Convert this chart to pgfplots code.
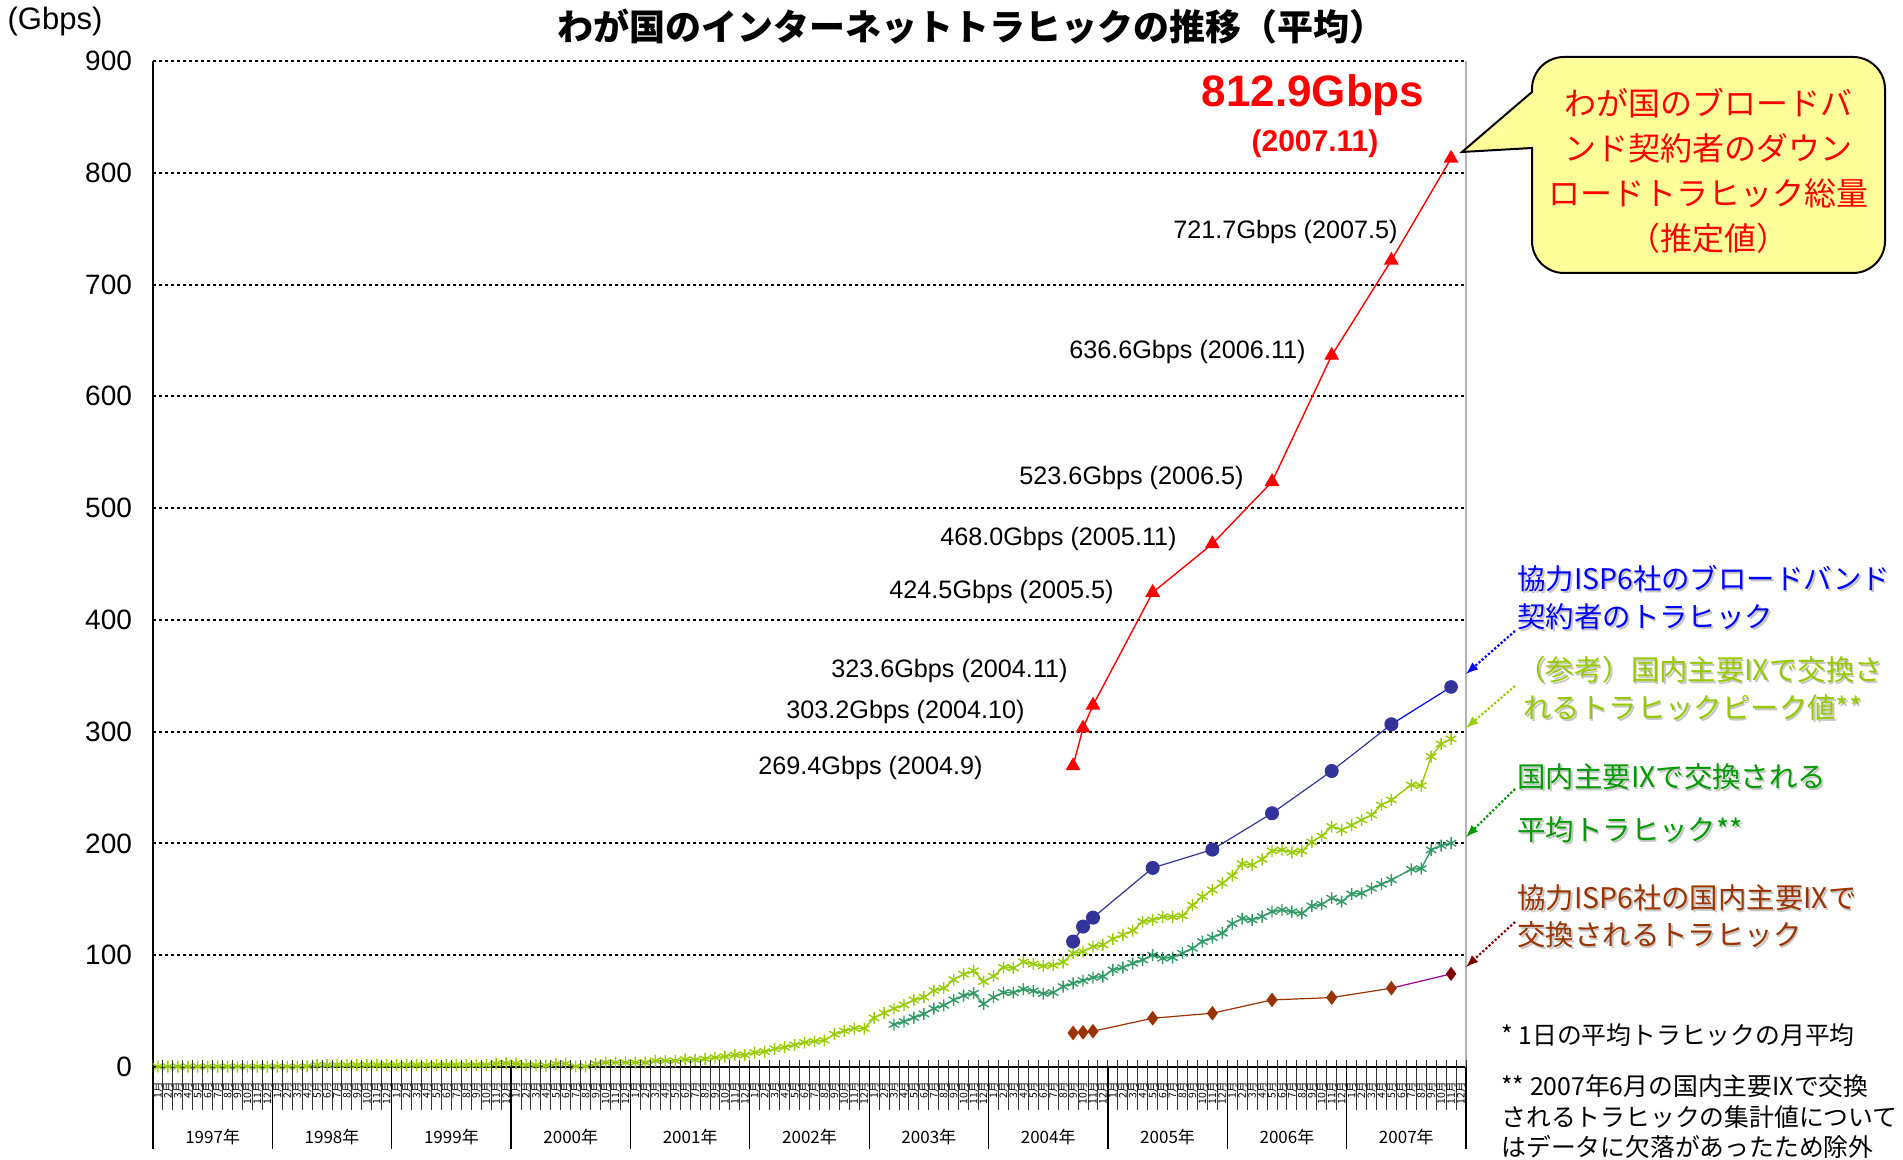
\documentclass[border=0pt]{standalone}
\usepackage{pgfplots}
\pgfplotsset{compat=1.18}
\usepackage{fontspec}
\setmainfont{Liberation Sans}
\newfontfamily\jp{Noto Sans CJK JP}
\definecolor{lgreen}{RGB}{153,204,0}
\definecolor{tealg}{RGB}{51,153,102}
\definecolor{navyb}{RGB}{51,51,153}
\definecolor{brownd}{RGB}{153,51,0}
\definecolor{gtext}{RGB}{0,153,0}
\definecolor{lgtext}{RGB}{150,200,0}
\definecolor{callout}{RGB}{255,255,153}
\definecolor{purp}{RGB}{153,0,153}
\definecolor{darkr}{RGB}{128,0,0}

\pgfplotstableread{
x y
0.5 0.3
1.5 0.3
2.5 0.3
3.5 0.3
4.5 0.3
5.5 0.3
6.5 0.3
7.5 0.3
8.5 0.3
9.5 0.3
10.5 0.3
11.5 0.3
12.5 0.3
13.5 0.3
14.5 0.3
15.5 0.6
16.5 1.8
17.5 1.7
18.5 1.8
19.5 1.8
20.5 1.7
21.5 1.8
22.5 1.8
23.5 1.9
24.5 1.8
25.5 1.8
26.5 1.7
27.5 1.8
28.5 1.8
29.5 1.9
30.5 1.8
31.5 1.8
32.5 1.9
33.5 1.9
34.5 3.0
35.5 3.4
36.5 3.2
37.5 1.8
38.5 1.6
39.5 1.2
40.5 2.8
41.5 3.0
42.5 0.5
43.5 0.5
44.5 2.8
45.5 4.0
46.5 4.0
47.5 4.0
48.5 4.0
49.5 4.0
50.5 5.5
51.5 5.5
52.5 5.5
53.5 6.6
54.5 6.4
55.5 7.2
56.5 8.4
57.5 9.3
58.5 10.8
59.5 10.8
60.5 12.9
61.5 13.8
62.5 16.2
63.5 17.7
64.5 19.8
65.5 21.9
66.5 23.0
67.5 23.9
68.5 29.3
69.5 32.3
70.5 34.4
71.5 34.4
72.5 43.9
73.5 48.4
74.5 52.3
75.5 55.5
76.5 60.0
77.5 62.4
78.5 68.4
79.5 70.5
80.5 78.2
81.5 83.0
82.5 86.0
83.5 76.4
84.5 81.2
85.5 89.2
86.5 88.6
87.5 94.0
88.5 92.2
89.5 90.4
90.5 91.0
91.5 93.7
92.5 101.8
93.5 103.2
94.5 107.7
95.5 109.2
96.5 114.6
97.5 118.2
98.5 122.0
99.5 130.1
100.5 131.6
101.5 134.3
102.5 134.3
103.5 135.2
104.5 144.7
105.5 152.4
106.5 158.4
107.5 164.4
108.5 171.2
109.5 181.7
110.5 180.8
111.5 185.8
112.5 193.3
113.5 194.2
114.5 192.1
115.5 193.3
116.5 201.3
117.5 206.7
118.5 215.1
119.5 212.1
120.5 216.3
121.5 221.0
122.5 225.5
123.5 234.4
124.5 238.9
126.5 252.3
127.5 251.7
128.5 277.7
129.5 289.0
130.5 293.5
}\peak

\pgfplotstableread{
x y
74.5 38.0
75.5 40.6
76.5 44.2
77.5 47.5
78.5 52.3
79.5 55.2
80.5 60.0
81.5 63.9
82.5 66.0
83.5 56.4
84.5 62.4
85.5 66.6
86.5 66.6
87.5 69.6
88.5 68.1
89.5 65.7
90.5 66.6
91.5 71.9
92.5 74.9
93.5 77.3
94.5 80.0
95.5 80.9
96.5 86.9
97.5 88.9
98.5 92.8
99.5 95.8
100.5 100.0
101.5 97.3
102.5 97.9
103.5 101.8
104.5 106.2
105.5 112.2
106.5 115.8
107.5 119.7
108.5 128.3
109.5 132.8
110.5 131.6
111.5 134.6
112.5 139.0
113.5 140.5
114.5 139.0
115.5 137.5
116.5 144.1
117.5 145.6
118.5 151.0
119.5 148.0
120.5 154.8
121.5 155.4
122.5 159.9
123.5 163.5
124.5 167.4
126.5 176.9
127.5 177.5
128.5 194.2
129.5 198.1
130.5 200.2
}\avg

\begin{document}
\begin{tikzpicture}[x=1pt,y=1pt]
\begin{axis}[
  at={(0,0)}, anchor=south west, scale only axis,
  width=656.5pt, height=503pt,
  xmin=0, xmax=132, ymin=0, ymax=900,
  axis x line*=bottom, axis y line*=left,
  axis line style={black, line width=0.6pt},
  clip=false,
  ytick={0,100,...,900},
  ymajorgrids,
  grid style={black, line width=1pt, dash pattern=on 1.4pt off 1.6pt},
  yticklabel style={font=\fontsize{14}{16}\selectfont, xshift=-7pt},
  /pgf/number format/assume math mode=true,
  ytick style={draw=none},
  xtick={0,1,...,132},
  xticklabels={},
  major tick length=0pt,
  xtick style={draw=none},
]
\addplot[lgreen, line width=0.7pt, mark=asterisk, mark size=3pt] table {\peak};
\addplot[tealg, line width=0.7pt, mark=asterisk, mark size=3pt] table {\avg};
\addplot[red, line width=0.7pt, mark=triangle*, mark size=3.6pt] coordinates {
 (92.5,269.4) (93.5,303.2) (94.5,323.6) (100.5,424.5) (106.5,468.0)
 (112.5,523.6) (118.5,636.6) (124.5,721.7) (130.5,812.9)};
\addplot[blue, line width=0.6pt] coordinates {(124.5,306.6) (130.5,340.0)};
\addplot[navyb, line width=0.6pt, mark=*, mark size=3.2pt] coordinates {
 (92.5,112.2) (93.5,125.6) (94.5,133.6) (100.5,178.1) (106.5,194.5)
 (112.5,227.0) (118.5,264.8) (124.5,306.6)};
\addplot[navyb, only marks, mark=*, mark size=3.2pt] coordinates {(130.5,340.0)};
\addplot[purp, line width=0.6pt] coordinates {(124.5,70.5) (130.5,83.3)};
\addplot[brownd, line width=0.6pt, mark=diamond*, mark size=3.2pt] coordinates {
 (92.5,30.5) (93.5,31.0) (94.5,32.0) (100.5,43.6) (106.5,48.1)
 (112.5,60.0) (118.5,62.1) (124.5,70.5)};
\addplot[darkr, only marks, mark=diamond*, mark size=3.2pt] coordinates {(130.5,83.3)};
\end{axis}
\draw[gray!60, line width=0.8pt] (656.5,0) -- (656.5,503);
% month ticks, labels and year separators
\foreach \i in {0,...,132}
  \draw[black!80, line width=0.5pt] ({\i*4.97348},3.5) -- ++(0,-25);
\foreach \i in {0,...,131}{
  \pgfmathtruncatemacro\m{mod(\i,12)+1}
  \node[font=\jp\fontsize{5.2}{6}\selectfont, rotate=90, anchor=east, inner sep=0pt] at ({(\i+0.5)*4.97348},-7.5) {\m 月};
}
\foreach \k in {0,...,11}
  \draw[black, line width=0.6pt] ({\k*59.68176},0) -- ++(0,-41);
\foreach \yr [count=\k from 0] in {1997,1998,1999,2000,2001,2002,2003,2004,2005,2006,2007}
  \node[font=\jp\fontsize{8.5}{9}\selectfont] at ({(12*\k+6)*4.97348},-35) {\yr 年};
% texts
\node[font=\fontsize{15.5}{17}\selectfont] at (-49,522.5) {(Gbps)};
\node[font=\jp\bfseries\fontsize{18}{20}\selectfont] at (409,520) {わが国のインターネットトラヒックの推移（平均）};
\node[font=\bfseries\fontsize{22}{24}\selectfont, text=red] at (580,486) {812.9Gbps};
\node[font=\bfseries\fontsize{15}{17}\selectfont, text=red] at (581,461.5) {(2007.11)};
\begin{scope}[every node/.style={font=\fontsize{12.6}{14}\selectfont, anchor=east, inner sep=0pt}]
\node at (622.5,417.5) {721.7Gbps (2007.5)};
\node at (576.5,357.5) {636.6Gbps (2006.11)};
\node at (545.5,294.5) {523.6Gbps (2006.5)};
\node at (512,264) {468.0Gbps (2005.11)};
\node at (480.5,237.5) {424.5Gbps (2005.5)};
\node at (457.5,198) {323.6Gbps (2004.11)};
\node at (436,177.5) {303.2Gbps (2004.10)};
\node at (415,149.5) {269.4Gbps (2004.9)};
\end{scope}
% callout
\draw[fill=callout, line width=1pt] (654.5,457.5) -- (689.5,459.5) [rounded corners=16pt] -- (689.5,397) -- (866,397) -- (866,505) -- (689.5,505) [sharp corners] -- (689.5,487.5) -- cycle;
\node[font=\jp\fontsize{16}{22.5}\selectfont, text=red, align=center] at (777.75,448) {わが国のブロードバ\\ンド契約者のダウン\\ロードトラヒック総量\\（推定値）};
% legend texts
\begin{scope}[every node/.style={font=\jp\fontsize{14.2}{16}\selectfont, anchor=west, inner sep=0pt}]
\node[text=gray!45] at (682.8,243.2) {協力ISP6社のブロードバンド};
\node[text=blue] at (682,244) {協力ISP6社のブロードバンド};
\node[text=gray!45] at (682.8,224.2) {契約者のトラヒック};
\node[text=blue] at (682,225) {契約者のトラヒック};
\node[text=gray!45] at (682.8,197.7) {（参考）国内主要IXで交換さ};
\node[text=lgtext] at (682,198.5) {（参考）国内主要IXで交換さ};
\node[text=gray!45] at (685.8,178.7) {れるトラヒックピーク値**};
\node[text=lgtext] at (685,179.5) {れるトラヒックピーク値**};
\node[text=gray!45] at (682.8,144.2) {国内主要IXで交換される};
\node[text=gtext] at (682,145) {国内主要IXで交換される};
\node[text=gray!45] at (682.8,117.7) {平均トラヒック**};
\node[text=gtext] at (682,118.5) {平均トラヒック**};
\node[text=gray!45] at (682.8,83.7) {協力ISP6社の国内主要IXで};
\node[text=brownd] at (682,84.5) {協力ISP6社の国内主要IXで};
\node[text=gray!45] at (682.8,65.2) {交換されるトラヒック};
\node[text=brownd] at (682,66) {交換されるトラヒック};
\end{scope}
\draw[blue, line width=1.1pt, densely dotted, -latex] (681,218) -- (656.5,196.5);
\draw[lgreen, line width=1.1pt, densely dotted, -latex] (681,190.5) -- (656.5,169.5);
\draw[gtext, line width=1.1pt, densely dotted, -latex] (681,139) -- (656.5,115);
\draw[darkr, line width=1.1pt, densely dotted, -latex] (681,72.5) -- (656.5,50);
% footnotes
\begin{scope}[every node/.style={font=\jp\fontsize{12.4}{14}\selectfont, anchor=west, inner sep=0pt}]
\node at (674,16) {* 1日の平均トラヒックの月平均};
\node at (674,-9.5) {** 2007年6月の国内主要IXで交換};
\node at (674,-25) {されるトラヒックの集計値について};
\node at (674,-40) {はデータに欠落があったため除外};
\end{scope}
\pgfresetboundingbox
\useasboundingbox (-76.5pt,-46.5pt) rectangle (875pt,533.5pt);
\end{tikzpicture}
\end{document}
